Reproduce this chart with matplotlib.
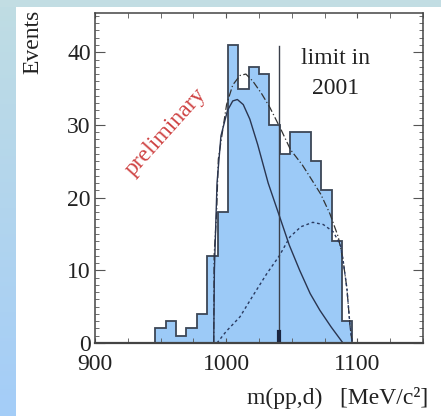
import matplotlib
matplotlib.use('Agg')
import matplotlib.pyplot as plt
import numpy as np

plt.rcParams['font.family'] = ['Liberation Serif', 'DejaVu Serif']

# histogram
bin_edges = [946, 953.9, 961.8, 969.7, 977.6, 985.5, 993.4, 1001.3, 1009.2, 1017.1,
             1025.0, 1032.9, 1040.8, 1048.7, 1056.6, 1064.5, 1072.4, 1080.3, 1088.2, 1096.1]
counts = [2, 3, 1, 2, 4, 12, 18, 41, 35, 38, 37, 30, 26, 29, 29, 25, 21, 14, 3]

# total fit (dash-dot)
total_x = [990.5, 990.8, 992.7, 994, 1000.3, 1005, 1010.5, 1015, 1020.4, 1027, 1033.3,
           1042.2, 1049, 1058, 1064, 1072, 1079, 1085.4, 1089, 1092, 1094.3, 1096]
total_y = [0, 12, 18, 25.3, 32.8, 35.5, 36.8, 37, 36, 34.3, 32.4,
           29.2, 26.6, 24.5, 22.8, 20.5, 17.8, 14.6, 11.5, 7.5, 2.5, 0]

# first component (solid)
sig_x = [990.5, 991, 993, 996, 1001, 1005, 1008.5, 1013, 1018, 1024, 1032,
         1040.5, 1048, 1056, 1064, 1071.4, 1080, 1089]
sig_y = [0, 10, 22, 28.5, 32, 33.3, 33.5, 32.8, 30.8, 27.3, 22,
         17.5, 13.5, 10, 6.8, 4.5, 2.2, 0]

# second component (dotted)
bkg_x = [993, 1000, 1010.5, 1020, 1030.8, 1040.5, 1048.6, 1057, 1066, 1074,
         1081.6, 1087, 1089, 1092, 1094.3, 1096]
bkg_y = [0, 1.6, 3.6, 6.4, 9.5, 12, 14.6, 16, 16.6, 16.3,
         15.3, 13.5, 11.5, 7.5, 2.5, 0]

limit_x = 1040.5
limit_top = 40.8

fill_col = '#9ccaf7'
edge_col = '#3c4656'
txt_col = '#222222'

fig = plt.figure(figsize=(4.41, 4.16), dpi=100)
fig.patch.set_facecolor('white')

# slide background strips
strip = fig.add_axes([0, 0, 16/441, 1])
grad = np.linspace(0, 1, 256).reshape(-1, 1)
cmap = matplotlib.colors.LinearSegmentedColormap.from_list('bg', ['#c0dde3', '#a4cdf8'])
strip.imshow(grad, aspect='auto', cmap=cmap, extent=[0, 1, 0, 1], origin='upper')
strip.axis('off')
top = fig.add_axes([0, 1 - 7/416, 1, 7/416])
top.set_facecolor('#c2dde3')
top.set_xticks([])
top.set_yticks([])
for s in top.spines.values():
    s.set_visible(False)

ax = fig.add_axes([95/441, 1 - 343/416, 328/441, 330/416])
ax.stairs(counts, bin_edges, fill=True, color=fill_col, lw=0)
ax.plot(total_x, total_y, color='#333333', lw=0.9, dashes=(6, 2, 1, 2))
ax.plot(sig_x, sig_y, color='#2a3550', lw=1.0)
ax.plot(bkg_x, bkg_y, color='#2a3a60', lw=1.0, dashes=(2, 2))
ax.stairs(counts, bin_edges, color=edge_col, lw=1.3)
ax.plot([limit_x, limit_x], [0, limit_top], color='#3a3f4a', lw=1.0)
ax.plot([limit_x, limit_x], [0, 1.5], color='#1a2540', lw=3)

ax.text(1083, 39.2, 'limit in', ha='center', va='center', fontsize=17, color=txt_col)
ax.text(1083, 35.0, '2001', ha='center', va='center', fontsize=17, color=txt_col)
ax.text(954, 29.0, 'preliminary', ha='center', va='center', rotation=48,
        rotation_mode='anchor', fontsize=17, color='#cf4444')

ax.set_xlim(900, 1150)
ax.set_ylim(0, 45.4)
ax.set_xticks([900, 1000, 1100])
ax.set_xticks(np.arange(900, 1151, 25), minor=True)
ax.set_yticks([0, 10, 20, 30, 40])
ax.set_yticks(np.arange(0, 46, 1), minor=True)
ax.tick_params(axis='both', which='both', direction='in', top=True, right=True,
               colors='#555555', labelcolor=txt_col, labelsize=17)
ax.tick_params(axis='x', which='both', length=3.5, pad=8)
ax.tick_params(axis='y', which='major', length=7, pad=3)
ax.tick_params(axis='y', which='minor', length=3)
for s in ax.spines.values():
    s.set_color('#444444')
    s.set_linewidth(1.1)
ax.spines['bottom'].set_linewidth(1.6)

fig.text(33/441, 1 - 10/416, 'Events', rotation=90, ha='center', va='top',
         fontsize=17, color=txt_col)
fig.text(428/441, 1 - 398/416, 'm(pp,d)   [MeV/c²]', ha='right', va='center',
         fontsize=17, color=txt_col)

fig.savefig('out.png', dpi=100)
